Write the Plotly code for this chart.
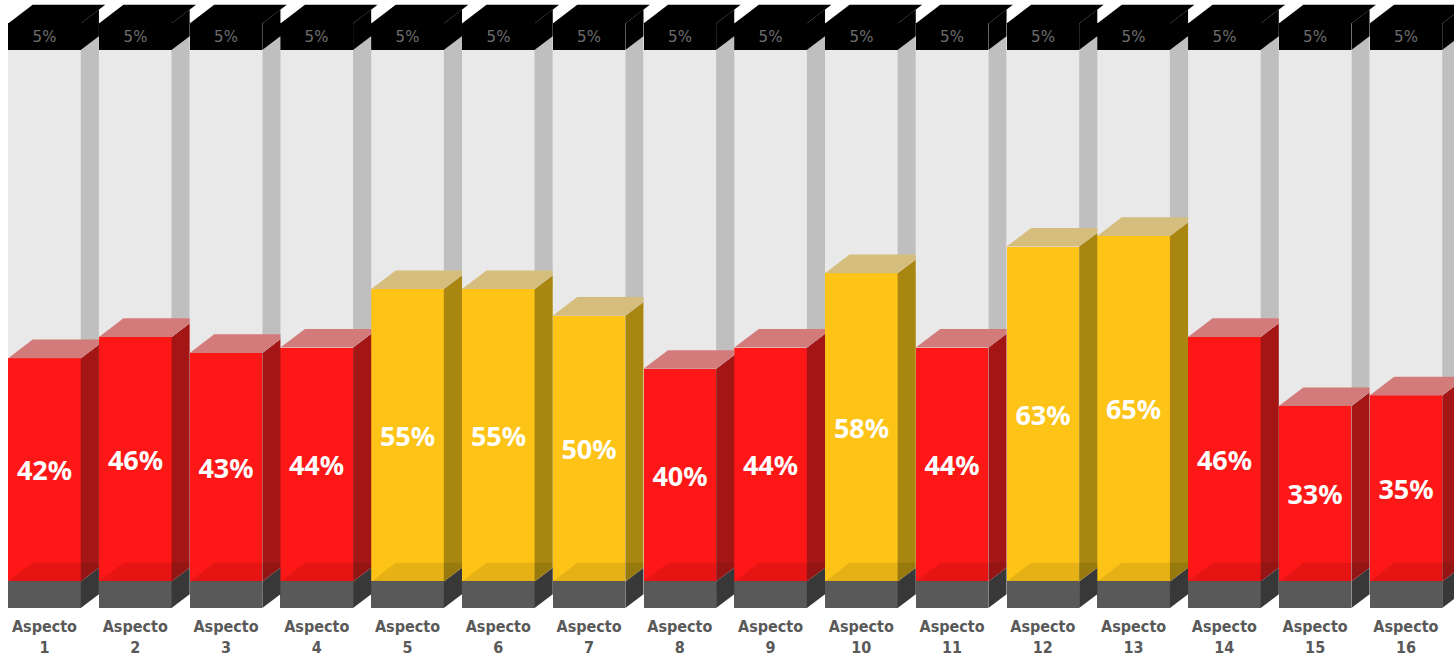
import plotly.graph_objects as go

# ---------------- data ----------------
categories = ["Aspecto<br>1", "Aspecto<br>2", "Aspecto<br>3", "Aspecto<br>4",
              "Aspecto<br>5", "Aspecto<br>6", "Aspecto<br>7", "Aspecto<br>8",
              "Aspecto<br>9", "Aspecto<br>10", "Aspecto<br>11", "Aspecto<br>12",
              "Aspecto<br>13", "Aspecto<br>14", "Aspecto<br>15", "Aspecto<br>16"]
values = [42, 46, 43, 44, 55, 55, 50, 40, 44, 58, 44, 63, 65, 46, 33, 35]
base_value = 5      # dark grey plinth
cap_value = 5       # black cap labelled "5%"
full_scale = 100
threshold = 50      # >= threshold -> yellow, else red

# ---------------- styling ----------------
RED = dict(front="#fe1717", side="#a41616", top="#d37b7b")
YEL = dict(front="#fdc316", side="#a8860f", top="#d5bd7d")
GREY_FRONT, GREY_SIDE = "#e9e9e9", "#bfbfbf"
BASE_FRONT, BASE_SIDE = "#595959", "#383838"
BLACK = "#000000"

W = 0.8      # front width (category units)
GAP = 1 - W
DX = 0.27    # depth offset in x (category units)
DY = 3.5     # depth offset in y (value units)

n = len(values)
xs = list(range(n))
pal = [YEL if v >= threshold else RED for v in values]

fig = go.Figure()

# front faces as stacked bars
fig.add_trace(go.Bar(x=xs, y=[base_value] * n, width=W, marker=dict(color=BASE_FRONT, line=dict(width=0)),
                     hoverinfo="skip"))
fig.add_trace(go.Bar(x=xs, y=values, width=W,
                     marker=dict(color=[p["front"] for p in pal], line=dict(width=0)),
                     text=[f"{v}%" for v in values], textposition="inside", insidetextanchor="middle",
                     textangle=0,
                     textfont=dict(family="Noto Sans", size=27, color="white", weight="bold")))
fig.add_trace(go.Bar(x=xs, y=[full_scale - v for v in values], width=W,
                     marker=dict(color=GREY_FRONT, line=dict(width=0)), hoverinfo="skip"))
fig.add_trace(go.Bar(x=xs, y=[cap_value] * n, width=W, marker=dict(color=BLACK, line=dict(width=0)),
                     text=[f"{cap_value}%"] * n, textposition="inside", insidetextanchor="middle",
                     textangle=0,
                     textfont=dict(family="DejaVu Sans", size=15, color="#6e6e6e")))


def path(pts):
    return "M " + " L ".join(f"{x:.4f},{y:.4f}" for x, y in pts) + " Z"


shapes = []


def add(pts, color, opacity=1.0):
    shapes.append(dict(type="path", xref="x", yref="y", path=path(pts), fillcolor=color,
                       opacity=opacity, line=dict(width=0), layer="above"))


for i, v in enumerate(values):
    x0, x1 = i - W / 2, i + W / 2
    last = i == n - 1
    d = DX if last else min(DX, GAP)
    dyc = DY * d / DX

    def side(yb, yt, color):
        add([(x1, yb), (x1 + d, yb + dyc), (x1 + d, yt + dyc), (x1, yt)], color)

    def top(y, color, clip=True, opacity=1.0):
        if clip and not last and DX > GAP:
            xc = x1 + GAP
            pts = [(x0, y), (x0 + DX, y + DY), (xc, y + DY), (xc, y + DY * GAP / DX), (x1, y)]
        else:
            pts = [(x0, y), (x0 + DX, y + DY), (x1 + DX, y + DY), (x1, y)]
        add(pts, color, opacity)

    yb = base_value
    yv = base_value + v
    yg = base_value + full_scale
    yt = yg + cap_value
    side(0, yb, BASE_SIDE)
    side(yb, yv, pal[i]["side"])
    side(yv, yg, GREY_SIDE)
    side(yg, yt, BLACK)
    top(yv, pal[i]["top"])
    top(yb, "#000000", opacity=0.09)
    top(yt, BLACK, clip=False)

fig.update_layout(
    width=1454, height=660,
    margin=dict(l=0, r=0, t=0, b=52),
    barmode="stack", bargap=0,
    showlegend=False,
    paper_bgcolor="white", plot_bgcolor="white",
    shapes=shapes,
    xaxis=dict(range=[-0.49, 15.53], tickmode="array", tickvals=xs, ticktext=categories,
               showgrid=False, zeroline=False, showline=False, ticks="",
               ticklabelstandoff=7, automargin=False,
               tickfont=dict(family="DejaVu Sans Condensed, Liberation Sans", size=16,
                             color="#595959", weight="bold"),
               fixedrange=True),
    yaxis=dict(range=[0, 114.4], visible=False, fixedrange=True, automargin=False),
    uniformtext=dict(mode=False),
)

fig.write_html("out.html")
